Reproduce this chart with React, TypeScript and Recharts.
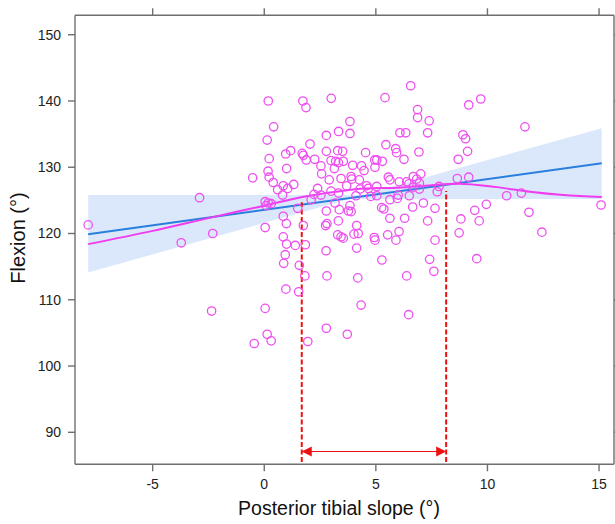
import React from "react";
import {
  ComposedChart,
  XAxis,
  YAxis,
  Scatter,
  Line,
  Area,
  ReferenceLine,
} from "recharts";

// Scatter: posterior tibial slope (°) vs flexion (°)
const slope = [
  -7.89, -3.72, -2.9, -2.31, -2.36, -0.52, -0.45,
  0.18, 1.73, 1.87, 3.0, 0.42, 0.13, 2.78, 3.33, 2.05, 0.22, 1.18, 0.96, 1.7, 1.75,
  1.88, 2.26, 2.78, 3.29, 2.99, 3.2, 1.0, 2.54, 3.14, 0.17, 0.22, 0.4, 2.57, 2.91,
  0.85, 1.05, 1.32, 0.6, 0.82, 2.39, 2.99, 0.04, 0.18, 0.31, 0.09, 2.23, 2.54, 2.1,
  1.5, 3.17, 2.78, 0.85, 0.99, 2.81, 2.75, 1.75, 0.04, 3.32, 0.85, 1.0, 1.39, 1.84,
  3.29, 0.94, 0.87, 1.57, 2.77, 1.82, 2.81, 0.97, 1.54, 0.04, 2.78,
  0.13, 0.31, 1.95, 3.72, 6.47, 4.34,
  6.56, 5.41, 6.87, 6.87, 7.39, 9.16, 9.7, 11.68, 3.84, 3.84, 6.08, 6.34, 7.32, 5.45,
  8.9, 9.02, 9.11, 8.69, 6.93, 5.89, 5.93, 6.26, 4.54, 3.51, 3.32, 3.54, 3.96, 4.36,
  4.47, 4.95, 5.04, 5.29, 4.96, 3.44, 3.89, 3.92, 4.26, 3.69, 3.33, 4.11, 4.29, 4.59,
  4.66, 4.77, 5.04, 5.04, 5.56, 5.63, 6.05, 6.0, 5.96, 5.63, 6.38, 6.48, 6.68, 6.83,
  7.01, 6.95, 6.95, 6.68, 6.5, 6.65, 7.13, 7.65, 7.75, 7.83, 8.65, 9.16, 10.86, 11.52,
  15.09, 9.95, 9.43, 11.86, 9.63, 8.81, 12.44, 8.73, 9.52, 7.32, 7.65, 7.41, 7.6,
  6.38, 5.27, 4.19, 4.14, 4.02, 4.21, 4.14, 3.44, 3.54, 4.93, 4.96, 5.53, 5.9, 6.04,
  3.36, 3.84, 3.77, 3.89, 5.63, 5.36, 5.26, 6.29,
];
const flexion = [
  121.3, 118.6, 125.4, 120.0, 108.3, 128.4, 103.4,
  140.0, 140.0, 139.0, 140.4, 136.1, 134.1, 134.8, 135.4, 133.5, 131.3, 132.5, 132.0, 132.1, 131.8,
  131.1, 131.2, 132.4, 132.5, 131.0, 130.9, 129.8, 130.2, 129.8, 129.4, 128.5, 127.7, 129.0, 128.1,
  127.2, 126.8, 127.4, 126.6, 125.8, 126.8, 126.4, 124.8, 124.6, 124.5, 124.2, 125.9, 125.8, 125.1,
  123.8, 124.6, 123.4, 122.6, 121.5, 121.5, 121.2, 121.2, 120.9, 121.9, 119.5, 118.4, 118.2, 118.3,
  119.8, 116.8, 115.5, 115.2, 117.4, 113.6, 113.6, 111.6, 111.2, 108.7, 105.7,
  104.8, 103.8, 103.7, 104.8, 107.75, 109.2,
  142.3, 140.5, 138.7, 137.5, 137.0, 139.4, 140.3, 136.1, 136.9, 135.1, 135.2, 135.2, 135.2, 133.4,
  134.9, 134.3, 132.4, 131.2, 132.3, 132.8, 132.2, 131.2, 132.2, 132.4, 130.7, 130.9, 130.3, 130.2,
  129.5, 131.1, 131.1, 130.9, 130.0, 128.3, 128.6, 128.2, 128.1, 127.2, 126.1, 125.7, 126.7, 127.2,
  126.8, 125.6, 127.1, 125.7, 128.5, 128.1, 127.8, 125.8, 125.3, 125.1, 127.8, 127.5, 128.6, 128.2,
  129.0, 127.6, 126.7, 127.0, 125.7, 124.0, 124.6, 123.8, 126.3, 127.1, 128.3, 128.5, 125.7, 126.1,
  124.3, 124.4, 123.5, 123.2, 121.9, 122.2, 120.2, 120.1, 116.2, 121.9, 119.0, 116.1, 114.3,
  113.6, 116.0, 113.3, 117.8, 119.9, 120.0, 121.2, 119.5, 119.3, 119.4, 119.0, 119.8, 119.0, 120.3,
  123.6, 124.2, 123.4, 123.3, 122.3, 123.7, 123.9, 122.3,
];

// Linear fit
const fitX = [-7.89, 15.12];
const fitY = [119.9, 130.6];

// Shaded band
const bandX = [-7.89, 3.8, 4.4, 15.12];
const bandLow = [114.1, 125.2, 125.2, 125.2];
const bandHigh = [125.8, 125.8, 125.8, 135.9];

// Smooth (loess) curve
const loessX = [-7.89, -5, -2.4, 0, 1.7, 3.2, 4.5, 6, 7.5, 8.7, 10.4, 11.9, 13.4, 15.12];
const loessY = [118.4, 120.4, 122.4, 124.2, 125.5, 126.3, 126.8, 126.9, 127.3, 127.5, 127.0, 126.3, 125.8, 125.5];

// Cut-off range annotation
const cutoffX = [1.68, 8.15];
const cutoffTop = [124.7, 126.4];
const cutoffBottom = 85.5;
const arrowY = 87.1;

const xTicks = [-5, 0, 5, 10, 15];
const yTicks = [90, 100, 110, 120, 130, 140, 150];
const xDomain: [number, number] = [-8.48, 15.67];
const yDomain: [number, number] = [85.17, 152.93];

const scatterData = slope.map((x, i) => ({ x, y: flexion[i] }));
const fitData = fitX.map((x, i) => ({ x, y: fitY[i] }));
const bandData = bandX.map((x, i) => ({ x, range: [bandLow[i], bandHigh[i]] }));
const loessData = loessX.map((x, i) => ({ x, y: loessY[i] }));
const arrowData = cutoffX.map((x) => ({ x, y: arrowY }));

const FONT = "'Liberation Sans', Arial, Helvetica, sans-serif";
const AXIS = "#6f6f6f";
const RED = "#ee1111";
const PINK = "#f03cf0";

const Circle = (p: any) => (
  <circle cx={p.cx} cy={p.cy} r={4.2} fill="none" stroke="#ee50f0" strokeWidth={1.3} />
);

const ArrowHead = (p: any) => {
  const { cx, cy, index } = p;
  if (cx == null || cy == null) return <g key={`h${index}`} />;
  const d = index === 0 ? 1 : -1;
  return (
    <polygon
      key={`h${index}`}
      points={`${cx},${cy} ${cx + d * 10},${cy - 5} ${cx + d * 10},${cy + 5}`}
      fill={RED}
      stroke="none"
    />
  );
};

const tickStyle = { fill: "#222", fontSize: 14, fontFamily: FONT };

export default function App() {
  return (
    <div
      style={{
        position: "absolute",
        left: 0,
        top: 0,
        width: 615,
        height: 524,
        overflow: "hidden",
        background: "#fff",
        fontFamily: FONT,
      }}
    >
      <ComposedChart
        width={640}
        height={524}
        margin={{ top: 0, right: 0, bottom: 0, left: 0 }}
      >
        <XAxis
          xAxisId={0}
          dataKey="x"
          type="number"
          domain={xDomain}
          ticks={xTicks}
          allowDataOverflow
          height={59.7}
          tickSize={7}
          tickMargin={8}
          tick={tickStyle}
          axisLine={{ stroke: AXIS, strokeWidth: 1.4 }}
          tickLine={{ stroke: AXIS, strokeWidth: 1.4 }}
        />
        <XAxis
          xAxisId="top"
          orientation="top"
          dataKey="x"
          type="number"
          domain={xDomain}
          ticks={xTicks}
          allowDataOverflow
          height={15.3}
          tickSize={7}
          tick={() => <g />}
          axisLine={{ stroke: AXIS, strokeWidth: 1.4 }}
          tickLine={{ stroke: AXIS, strokeWidth: 1.4 }}
        />
        <YAxis
          yAxisId={0}
          dataKey="y"
          type="number"
          domain={yDomain}
          ticks={yTicks}
          allowDataOverflow
          width={75}
          tickSize={7}
          tickMargin={7}
          tick={tickStyle}
          axisLine={{ stroke: AXIS, strokeWidth: 1.4 }}
          tickLine={{ stroke: AXIS, strokeWidth: 1.4 }}
        />
        <YAxis
          yAxisId="right"
          orientation="right"
          type="number"
          domain={yDomain}
          ticks={yTicks}
          allowDataOverflow
          width={26}
          tickSize={7}
          tick={() => <g />}
          axisLine={{ stroke: AXIS, strokeWidth: 1.4 }}
          tickLine={{ stroke: AXIS, strokeWidth: 1.4 }}
        />

        <Area
          data={bandData}
          dataKey="range"
          type="linear"
          stroke="none"
          fill="#dbe8fb"
          fillOpacity={1}
          isAnimationActive={false}
          activeDot={false}
        />
        <Scatter
          data={scatterData}
          dataKey="y"
          shape={Circle}
          isAnimationActive={false}
        />
        <Line
          data={fitData}
          dataKey="y"
          type="linear"
          stroke="#2a7fdc"
          strokeWidth={2}
          dot={false}
          activeDot={false}
          isAnimationActive={false}
        />
        <Line
          data={loessData}
          dataKey="y"
          type="monotone"
          stroke={PINK}
          strokeWidth={2}
          dot={false}
          activeDot={false}
          isAnimationActive={false}
        />
        {cutoffX.map((cx, i) => (
          <ReferenceLine
            key={i}
            segment={[
              { x: cx, y: cutoffBottom },
              { x: cx, y: cutoffTop[i] },
            ]}
            stroke={RED}
            strokeWidth={2}
            strokeDasharray="5 2.5"
          />
        ))}
        <Line
          data={arrowData}
          dataKey="y"
          type="linear"
          stroke={RED}
          strokeWidth={1}
          dot={ArrowHead}
          activeDot={false}
          isAnimationActive={false}
        />
      </ComposedChart>
      <svg
        width={615}
        height={524}
        style={{ position: "absolute", left: 0, top: 0, pointerEvents: "none" }}
      >
        <text
          x={339}
          y={515}
          textAnchor="middle"
          fontSize={19.5}
          fontFamily={FONT}
          fill="#111"
        >
          Posterior tibial slope (°)
        </text>
        <text
          x={24.5}
          y={238}
          textAnchor="middle"
          fontSize={20}
          fontFamily={FONT}
          fill="#111"
          transform="rotate(-90 24.5 238)"
        >
          Flexion (°)
        </text>
      </svg>
    </div>
  );
}
